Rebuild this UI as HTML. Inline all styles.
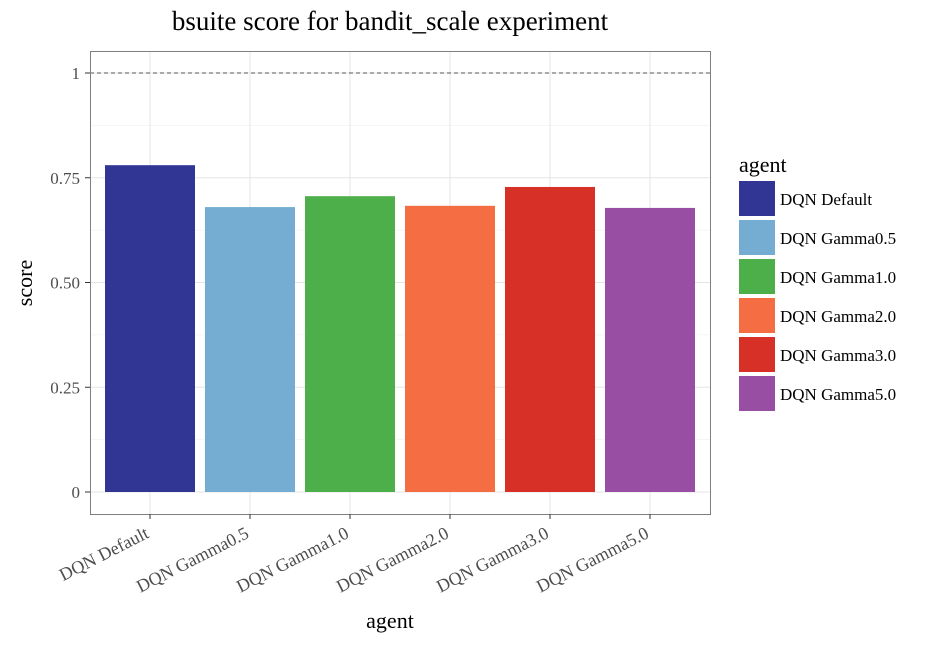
<!DOCTYPE html>
<html><head><meta charset="utf-8"><style>
body{margin:0;background:#fff;font-family:"Liberation Serif",serif}
svg text{font-family:"Liberation Serif",serif}
</style></head><body>
<svg id="chart" width="944" height="643" xmlns="http://www.w3.org/2000/svg">
<text x="390" y="30" font-size="27" text-anchor="middle" fill="#000">bsuite score for bandit_scale experiment</text>
<g id="grid"></g>
<g id="bars"></g>
<rect x="90.5" y="51.5" width="620" height="463" fill="none" stroke="#7f7f7f" stroke-width="1"/>
<g id="axes"></g>
<text x="390" y="628" font-size="22" text-anchor="middle">agent</text>
<text transform="translate(32,283) rotate(-90)" font-size="22" text-anchor="middle">score</text>
<g id="legend"></g>
</svg>
<script>
const categories=["DQN Default","DQN Gamma0.5","DQN Gamma1.0","DQN Gamma2.0","DQN Gamma3.0","DQN Gamma5.0"];
const scores=[0.780,0.680,0.706,0.683,0.728,0.678];
const colors=["#313695","#74add1","#4daf4a","#f46d43","#d73027","#984ea3"];
const yTicks=[0,0.25,0.5,0.75,1];
const yTickLabels=["0","0.25","0.50","0.75","1"];
const NS="http://www.w3.org/2000/svg";
const y=v=>492-v*419;
const x=i=>150+i*100;
function mk(tag,attrs,parent){const e=document.createElementNS(NS,tag);for(const k in attrs)e.setAttribute(k,attrs[k]);parent.appendChild(e);return e;}
const grid=document.getElementById('grid'),bars=document.getElementById('bars'),axes=document.getElementById('axes'),legend=document.getElementById('legend');
for(let i=0;i<yTicks.length-1;i++){const g=mk('line',{x1:90,x2:710,y1:y((yTicks[i]+yTicks[i+1])/2),y2:y((yTicks[i]+yTicks[i+1])/2),stroke:'#f2f2f2','stroke-width':0.8},grid);

}
yTicks.forEach((t,i)=>{const g=mk('line',{x1:90,x2:710,y1:y(t),y2:y(t),stroke:'#e5e5e5','stroke-width':1},grid);


const tk=mk('line',{x1:85,x2:90,y1:y(t),y2:y(t),stroke:'#333'},axes);


const lb=mk('text',{x:80,y:y(t)+6,'font-size':17,'text-anchor':'end',fill:'#4d4d4d'},axes);lb.textContent=yTickLabels[i];

});
categories.forEach((c,i)=>{const g=mk('line',{x1:x(i),x2:x(i),y1:51,y2:514,stroke:'#e5e5e5'},grid);


const b=mk('rect',{x:x(i)-45,y:y(scores[i]),width:90,height:y(0)-y(scores[i]),fill:colors[i]},bars);


const tk=mk('line',{x1:x(i),x2:x(i),y1:514,y2:519,stroke:'#333'},axes);


const lb=mk('text',{transform:`translate(${x(i)},${537}) rotate(-27)`,'font-size':18,'text-anchor':'end',fill:'#4d4d4d'},axes);lb.textContent=c;


const k=mk('rect',{x:739,y:181+i*39,width:36,height:35,fill:colors[i]},legend);


const lt=mk('text',{x:780,y:205+i*39,'font-size':17},legend);lt.textContent=c;

});
const dl=mk('line',{x1:90,x2:710,y1:y(1),y2:y(1),stroke:'#555','stroke-dasharray':'4,3','stroke-width':1},bars);


const lt=mk('text',{x:739,y:172,'font-size':22},legend);lt.textContent='agent';


</script>
</body></html>
